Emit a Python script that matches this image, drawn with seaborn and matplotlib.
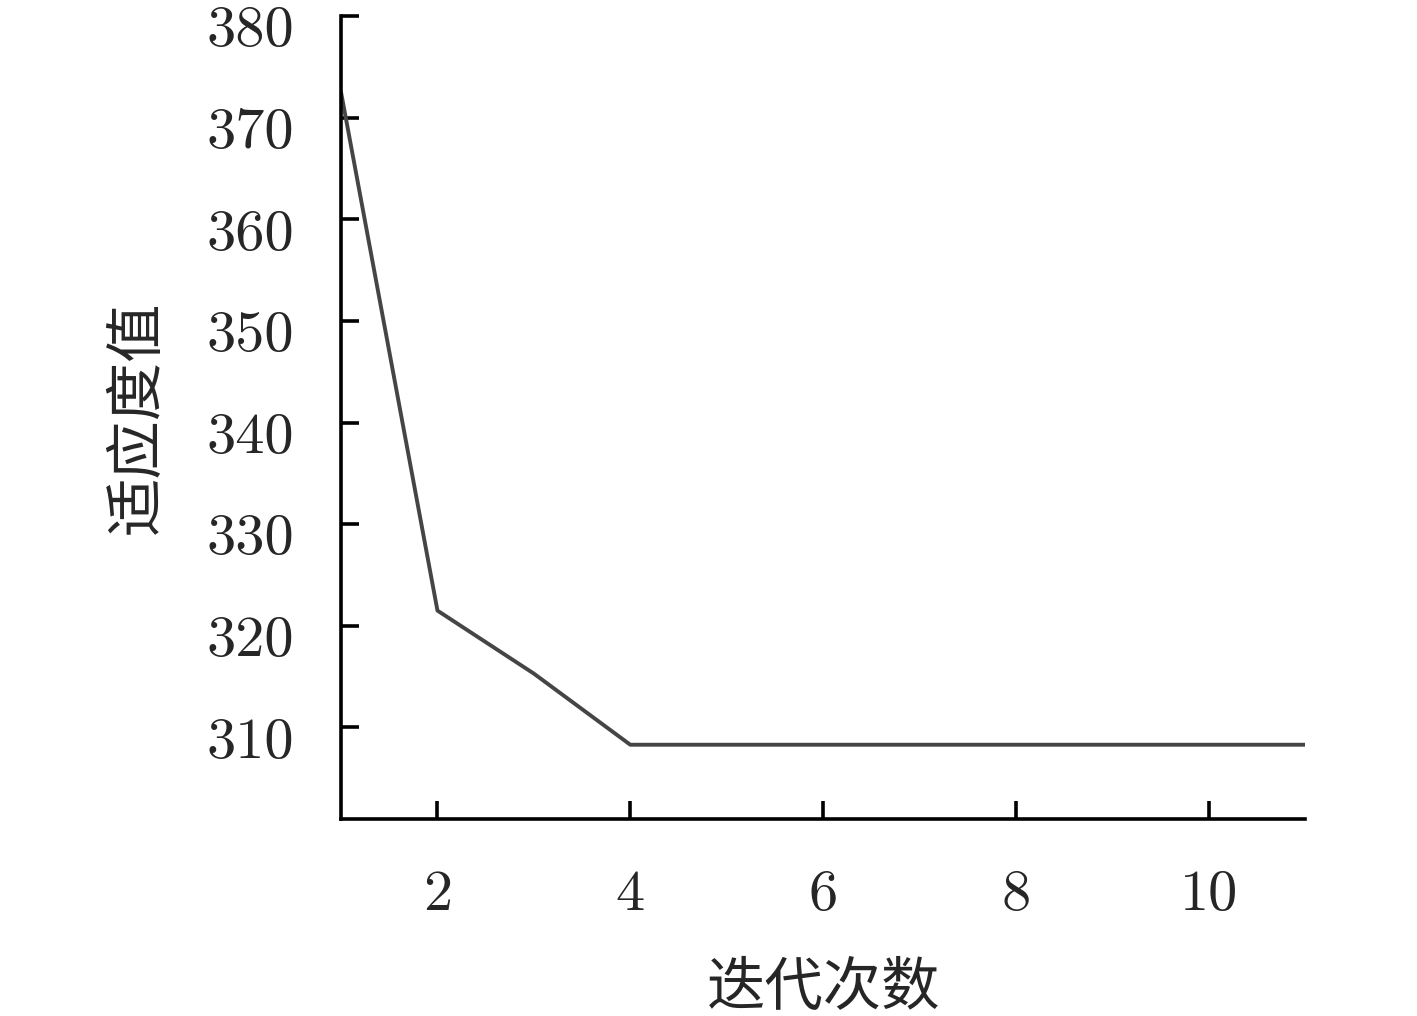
import matplotlib
matplotlib.use("Agg")
import matplotlib.pyplot as plt
import matplotlib.transforms as mtransforms
import seaborn as sns
import pandas as pd

# iteration vs fitness
iterations = [1, 2, 3, 4, 5, 6, 7, 8, 9, 10, 11]
fitness = [372.5, 321.5, 315.3, 308.3, 308.3, 308.3, 308.3, 308.3, 308.3, 308.3, 308.3]
xticks = [2, 4, 6, 8, 10]
yticks = [310, 320, 330, 340, 350, 360, 370, 380]

sns.set_style("ticks")
plt.rcParams['font.family'] = ['cmr10', 'Noto Sans CJK SC', 'DejaVu Sans']
plt.rcParams['axes.formatter.use_mathtext'] = True

df = pd.DataFrame({'iter': iterations, 'fit': fitness})

fig = plt.figure(figsize=(14.17, 10.16), dpi=100)
ax = fig.add_axes([0.2407, 0.194, 0.6803, 0.790])
sns.lineplot(data=df, x='iter', y='fit', color='#454545', linewidth=2.8, ax=ax)

ax.set_xlim(1, 11)
ax.set_ylim(301, 380)
ax.set_xticks(xticks)
ax.set_yticks(yticks)
ax.set_xticklabels([str(t) for t in xticks])
ax.set_yticklabels([str(t) for t in yticks])
ax.tick_params(direction='in', length=13, width=2.6, labelsize=42, pad=34, color='black')
ax.tick_params(axis='x', pad=37)

# labels sit a bit below their ticks in the original
shift = mtransforms.ScaledTranslation(0, -10 / 100, fig.dpi_scale_trans)
for lab in ax.get_yticklabels():
    lab.set_transform(lab.get_transform() + shift)

sns.despine(ax=ax)
for s in ['left', 'bottom']:
    ax.spines[s].set_linewidth(2.6)
    ax.spines[s].set_color('black')

ax.set_xlabel('迭代次数', fontsize=42, family=['Noto Sans CJK SC', 'DejaVu Sans'], labelpad=26)
ax.set_ylabel('适应度值', fontsize=42, family=['Noto Sans CJK SC', 'DejaVu Sans'], labelpad=28)

fig.savefig('out.png', dpi=100)
